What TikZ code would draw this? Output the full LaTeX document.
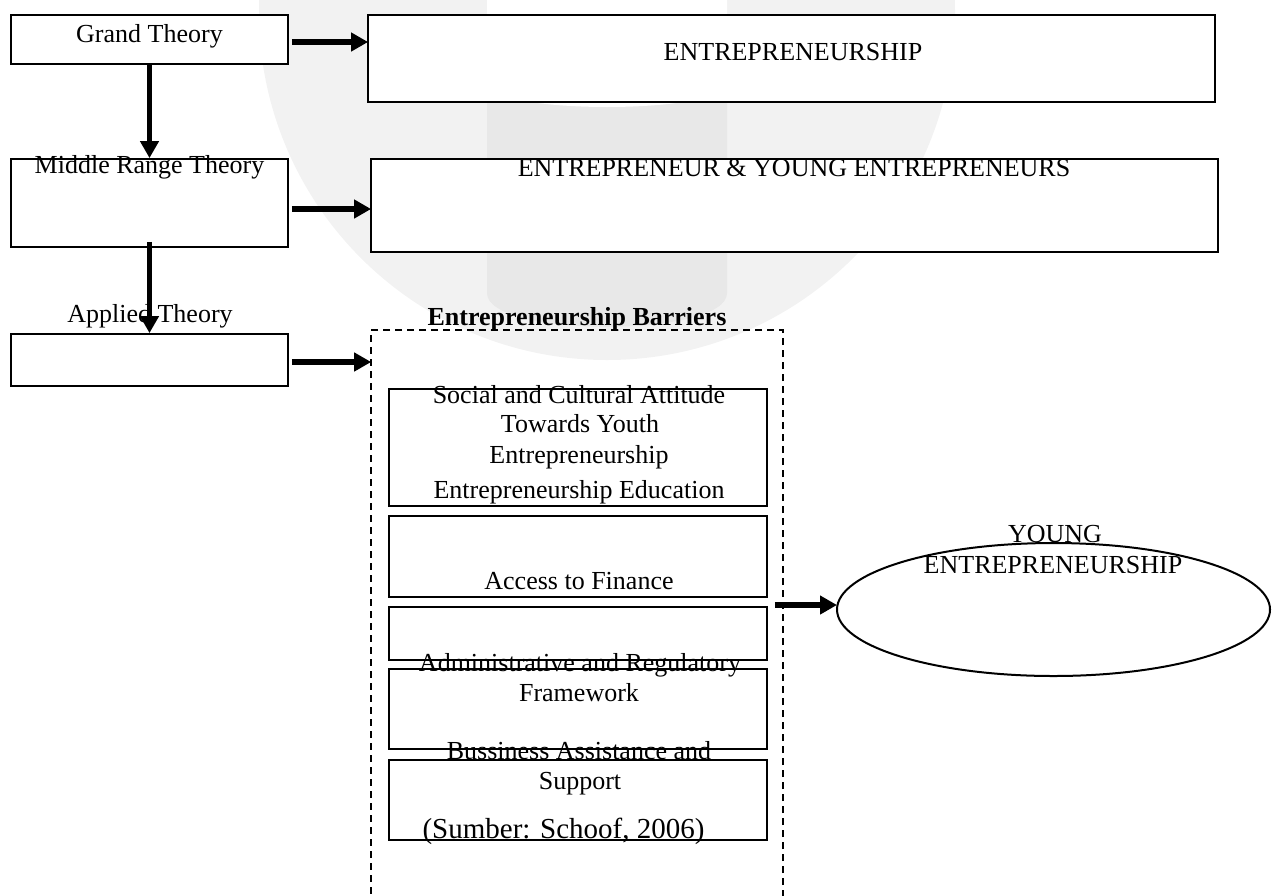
\documentclass[tikz,border=0pt]{standalone}
\usepackage{fontspec}
\setmainfont{Liberation Serif}
\usetikzlibrary{arrows.meta,shapes.geometric}
\definecolor{wmlight}{HTML}{F2F2F2}
\definecolor{wmband}{HTML}{E8E8E8}
\begin{document}
\begin{tikzpicture}[x=1pt,y=-1pt,
  box/.style={draw, fill=white, line width=1.8pt, inner sep=0pt, rectangle},
  lbl/.style={anchor=base, inner sep=0pt, font=\fontsize{26}{30}\selectfont},
  arr/.style={line width=5.8pt, -{Triangle[length=17pt,width=18pt]}},
  dashbox/.style={draw, dash pattern=on 7pt off 5pt, line width=1.6pt, inner sep=0pt, rectangle},
  oval/.style={draw, fill=white, ellipse, line width=2pt, inner sep=0pt}]
\useasboundingbox (0,0) rectangle (1273,895);
\clip (0,0) rectangle (1273,895);
% watermark
\fill[wmlight] (607,12) circle (348pt);
\fill[wmband] (487,83) -- (487,293) .. controls (487,338) and (727,338) .. (727,293) -- (727,83) -- cycle;
\fill[white] (487,-5) -- (487,83) .. controls (487,115) and (727,115) .. (727,83) -- (727,-5) -- cycle;
% boxes
\node[box, minimum width=277pt, minimum height=49pt] (G) at (149.5,39.5) {};
\node[box, minimum width=847pt, minimum height=87pt] (E1) at (791.5,58.5) {};
\node[box, minimum width=277pt, minimum height=88pt] (M) at (149.5,203) {};
\node[box, minimum width=847pt, minimum height=93pt] (E2) at (794.5,205.5) {};
\node[box, minimum width=277pt, minimum height=52pt] (A) at (149.5,360) {};
\node[dashbox, minimum width=412pt, minimum height=575pt] (D) at (577,617.5) {};
\node[box, minimum width=378pt, minimum height=117pt] (B1) at (578,447.5) {};
\node[box, minimum width=378pt, minimum height=81pt] (B2) at (578,556.5) {};
\node[box, minimum width=378pt, minimum height=53pt] (B3) at (578,633.5) {};
\node[box, minimum width=378pt, minimum height=80pt] (B4) at (578,709) {};
\node[box, minimum width=378pt, minimum height=80pt] (B5) at (578,800) {};
\node[oval, minimum width=433pt, minimum height=133pt] (Y) at (1053.5,609.5) {};
% texts
\node[lbl] (tG) at (149.5,42) {Grand Theory};
\node[lbl] (tE1) at (793,60) {ENTREPRENEURSHIP};
\node[lbl] (tM) at (149.5,173) {Middle Range Theory};
\node[lbl] (tE2) at (794,176) {ENTREPRENEUR \& YOUNG ENTREPRENEURS};
\node[lbl] (tA) at (150,322) {Applied Theory};
\node[lbl, font=\fontsize{26}{30}\selectfont\bfseries] (tB) at (577,325) {Entrepreneurship Barriers};
\node[lbl] (t1a) at (579,403) {Social and Cultural Attitude};
\node[lbl] (t1b) at (580,432.6) {Towards Youth};
\node[lbl] (t1c) at (579,463) {Entrepreneurship};
\node[lbl] (t1d) at (579,498) {Entrepreneurship Education};
\node[lbl] (t2) at (579,589) {Access to Finance};
\node[lbl] (t3a) at (580,671) {Administrative and Regulatory};
\node[lbl] (t3b) at (579,701.5) {Framework};
\node[lbl] (t4a) at (579,759) {Bussiness Assistance and};
\node[lbl] (t4b) at (580,789) {Support};
\node[lbl, font=\fontsize{29}{33}\selectfont] (src) at (563.5,838) {(Sumber: Schoof, 2006)};
\node[lbl] (ty1) at (1055,542) {YOUNG};
\node[lbl] (ty2) at (1053,573) {ENTREPRENEURSHIP};
% connectors
\draw[arr] ([shift={(3,2.5)}]G.east) -- ([shift={(1,2.5)}]G.east -| E1.west);
\draw[arr] ([shift={(3,6)}]M.east) -- ([shift={(1,6)}]M.east -| E2.west);
\draw[arr] ([shift={(3,2)}]A.east) -- ([shift={(1,2)}]A.east -| D.west);
\draw[arr] (G.south) -- (M.north);
\draw[arr] ([shift={(0,-6)}]M.south) -- (A.north);
\draw[arr] ([shift={(-9,-12.5)}]D.east) -- ([shift={(1,-4.5)}]Y.west);
\end{tikzpicture}
\end{document}
